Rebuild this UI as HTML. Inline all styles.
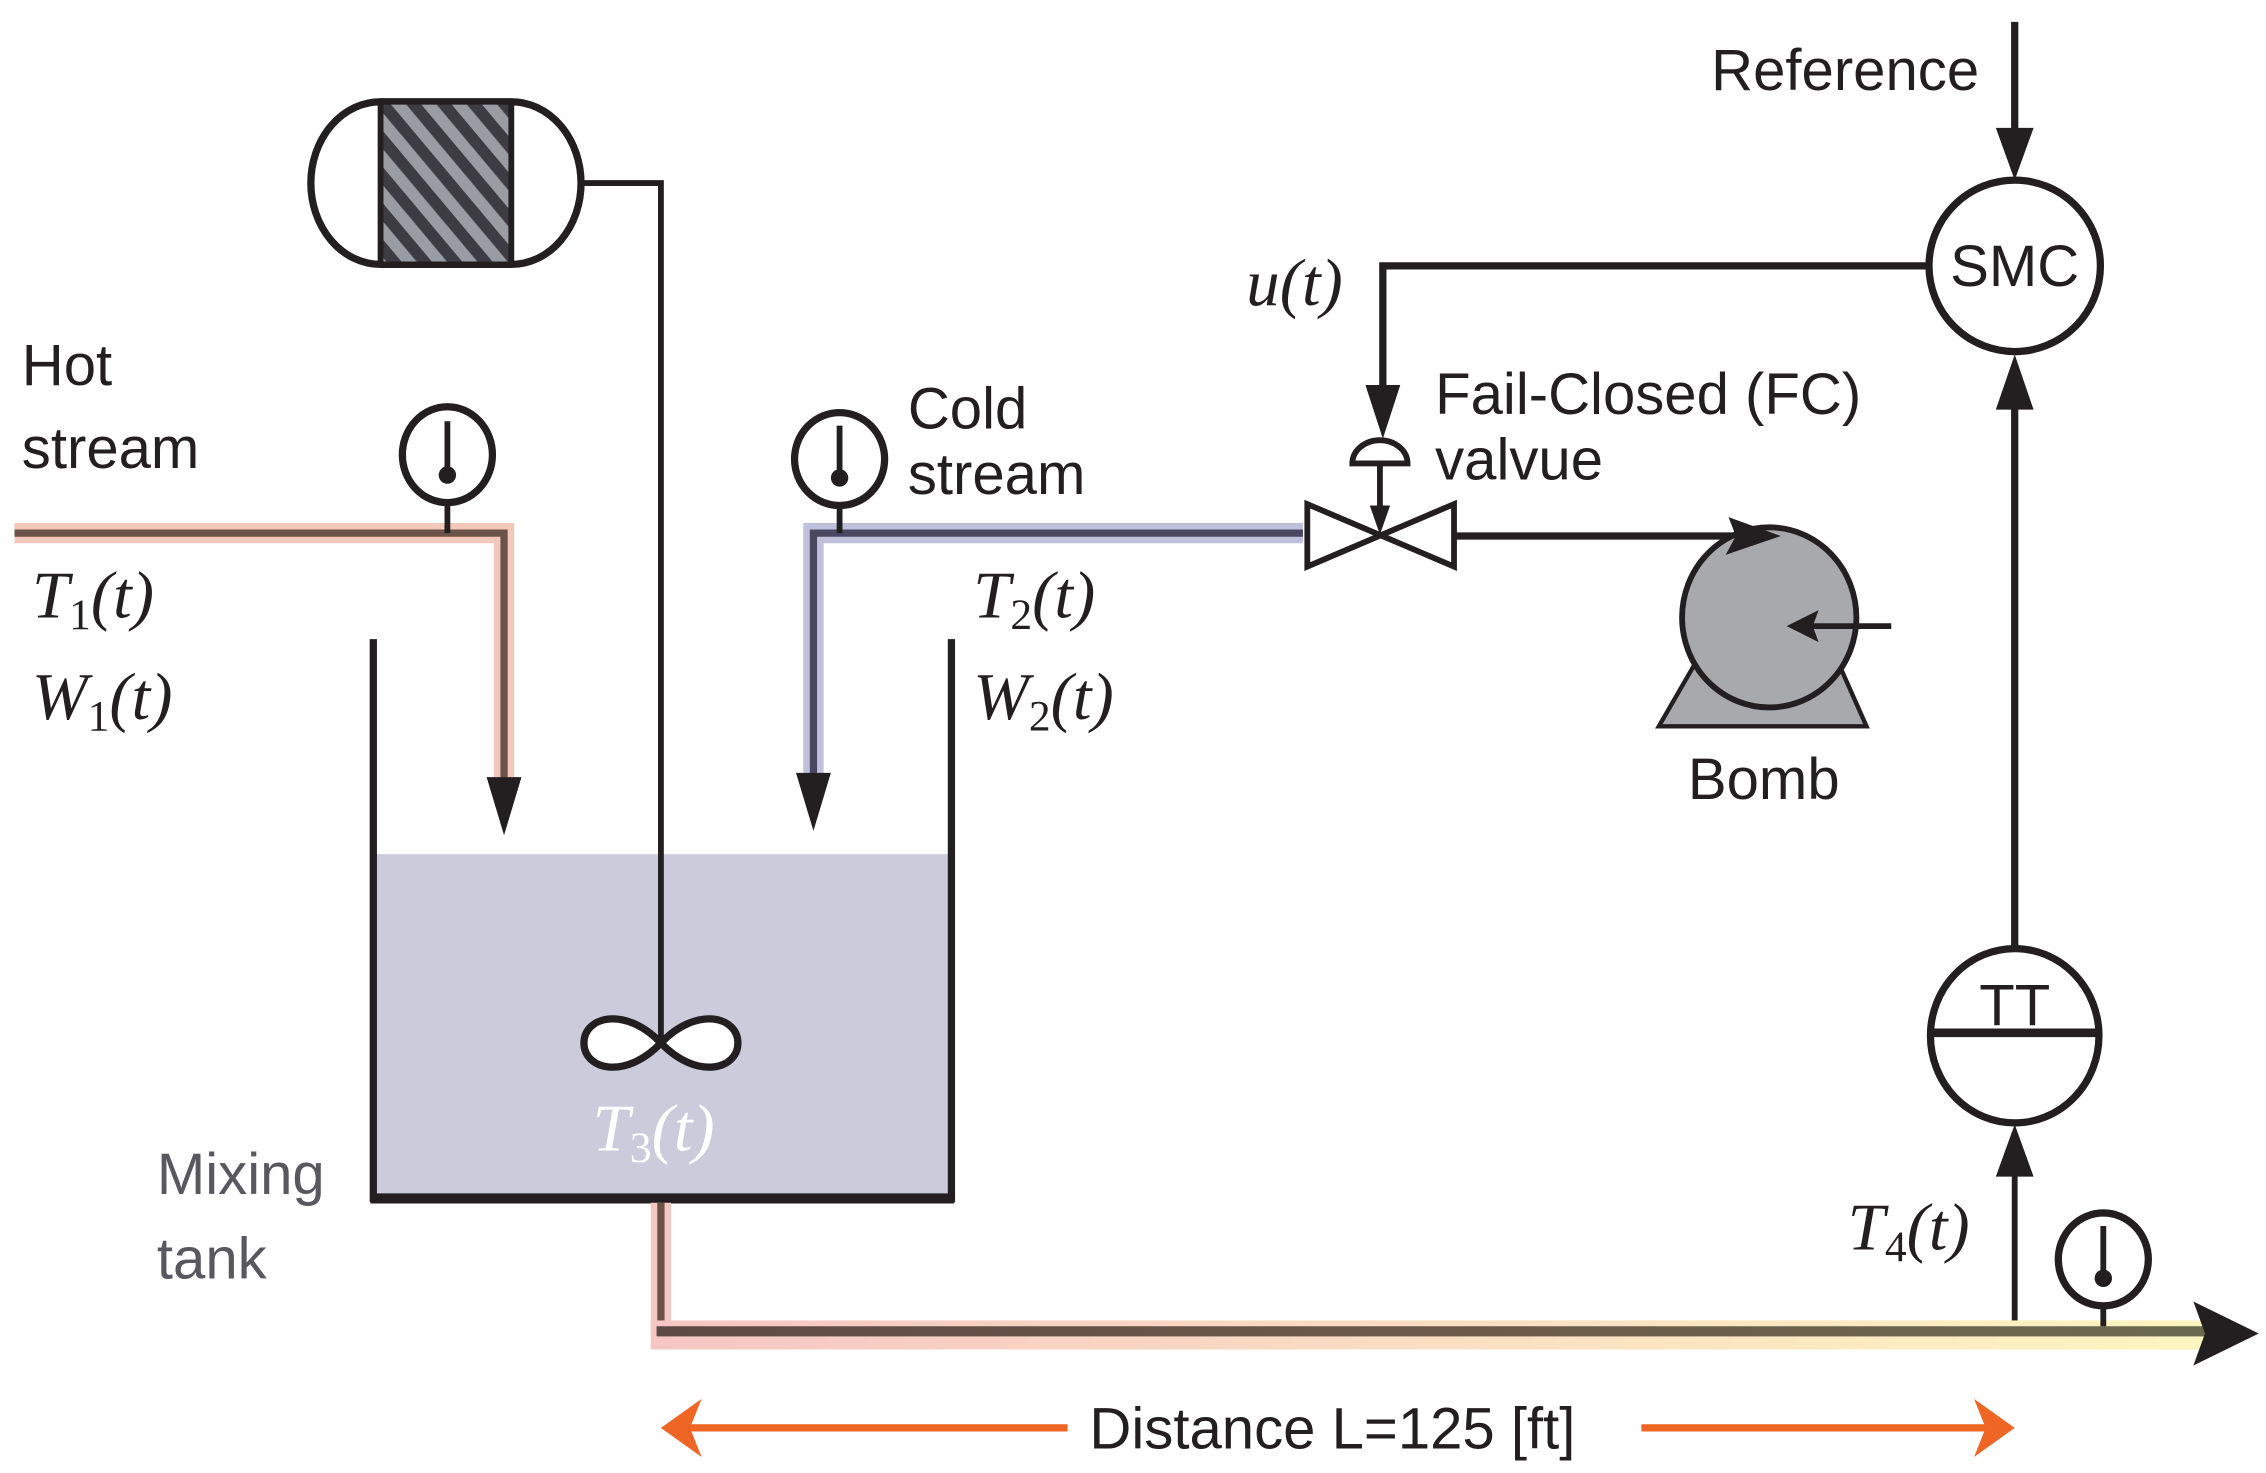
<!DOCTYPE html>
<html><head><meta charset="utf-8"><style>
html,body{margin:0;padding:0;background:#fff;}
svg{display:block;}
.s{font-family:"Liberation Sans",sans-serif;font-size:40px;fill:#231f20;}
.m{font-family:"Liberation Serif",serif;font-style:italic;font-size:46px;fill:#231f20;}
.sub{font-size:30px;font-style:normal;}
</style></head><body>
<svg width="2266" height="1473" viewBox="0 0 1560 1014" xmlns="http://www.w3.org/2000/svg">
<defs>
<pattern id="hatch" width="16" height="16" patternUnits="userSpaceOnUse" patternTransform="rotate(-40)">
<rect width="16" height="16" fill="#3c3c42"/><rect width="8" height="16" fill="#9a9ca3"/>
</pattern>
<linearGradient id="halo" x1="0" x2="1" y1="0" y2="0">
<stop offset="0" stop-color="#f6c6c4"/><stop offset="1" stop-color="#fdf5c0"/></linearGradient>
<linearGradient id="core" x1="0" x2="1" y1="0" y2="0">
<stop offset="0" stop-color="#5e4a44"/><stop offset="0.5" stop-color="#6d5a4a"/><stop offset="1" stop-color="#6b6a4e"/></linearGradient>
</defs>

<!-- heater -->
<path d="M262 70 L352 70 A48 56 0 0 1 352 182 L262 182 A48 56 0 0 1 262 70 Z" fill="#fff" stroke="#231f20" stroke-width="5"/>
<rect x="262" y="70" width="90" height="112" fill="url(#hatch)" stroke="#231f20" stroke-width="4"/>

<!-- tank liquid -->
<rect x="258" y="588" width="396" height="237" fill="#cbcbdc"/>
<polyline points="400,126 455,126 455,718" fill="none" stroke="#231f20" stroke-width="4"/>
<polyline points="257,440 257,825 655,825 655,440" fill="none" stroke="#231f20" stroke-width="5"/>
<line x1="255" y1="825" x2="657" y2="825" stroke="#231f20" stroke-width="7"/>

<!-- impeller -->
<path d="M455 718 C430 692 402 700 402 718 C402 736 430 744 455 718 C480 692 508 700 508 718 C508 736 480 744 455 718 Z" fill="#fff" stroke="#231f20" stroke-width="5"/>
<text x="408" y="792" class="m" style="fill:#fff">T<tspan class="sub" dy="8">3</tspan><tspan dy="-8">(t)</tspan></text>
<text x="108" y="822" class="s" style="fill:#58585e">Mixing</text>
<text x="108" y="880" class="s" style="fill:#58585e">tank</text>

<!-- hot stream -->
<polyline points="10,367 347,367 347,545" fill="none" stroke="#f2c8bb" stroke-width="14"/>
<polyline points="10,367 347,367 347,545" fill="none" stroke="#6b5347" stroke-width="5"/>
<polygon points="335,535 359,535 347,575" fill="#231f20"/>
<ellipse cx="308" cy="313" rx="31" ry="33" fill="#fff" stroke="#231f20" stroke-width="5"/>
<line x1="308" y1="290" x2="308" y2="325" stroke="#231f20" stroke-width="4"/>
<circle cx="308" cy="327" r="6" fill="#231f20"/>
<line x1="308" y1="346" x2="308" y2="367" stroke="#231f20" stroke-width="4"/>
<text x="15" y="265" class="s">Hot</text>
<text x="15" y="322" class="s">stream</text>
<text x="22" y="425" class="m">T<tspan class="sub" dy="8">1</tspan><tspan dy="-8">(t)</tspan></text>
<text x="22" y="495" class="m">W<tspan class="sub" dy="8">1</tspan><tspan dy="-8">(t)</tspan></text>

<!-- cold stream -->
<polyline points="897,367 560,367 560,540" fill="none" stroke="#bfc0dc" stroke-width="14"/>
<polyline points="897,367 560,367 560,540" fill="none" stroke="#4a4860" stroke-width="5"/>
<polygon points="548,532 572,532 560,572" fill="#231f20"/>
<ellipse cx="578" cy="316" rx="31" ry="32" fill="#fff" stroke="#231f20" stroke-width="5"/>
<line x1="578" y1="293" x2="578" y2="327" stroke="#231f20" stroke-width="4"/>
<circle cx="578" cy="329" r="6" fill="#231f20"/>
<line x1="578" y1="348" x2="578" y2="367" stroke="#231f20" stroke-width="4"/>
<text x="625" y="295" class="s">Cold</text>
<text x="625" y="340" class="s">stream</text>
<text x="670" y="425" class="m">T<tspan class="sub" dy="8">2</tspan><tspan dy="-8">(t)</tspan></text>
<text x="670" y="495" class="m">W<tspan class="sub" dy="8">2</tspan><tspan dy="-8">(t)</tspan></text>

<!-- valve -->
<polygon points="900,347 900,390 1001,347 1001,390" fill="#fff" stroke="#231f20" stroke-width="4" stroke-linejoin="miter"/>
<path d="M931 319 A19 16 0 0 1 969 319 Z" fill="#fff" stroke="#231f20" stroke-width="4"/>
<line x1="950" y1="319" x2="950" y2="350" stroke="#231f20" stroke-width="4"/>
<polygon points="943,348 957,348 950,368" fill="#231f20"/>
<polyline points="1327,183 952,183 952,270" fill="none" stroke="#231f20" stroke-width="5"/>
<polygon points="940,265 964,265 952,302" fill="#231f20"/>
<text x="858" y="210" class="m">u(t)</text>
<text x="988" y="285" class="s">Fail-Closed (FC)</text>
<text x="988" y="330" class="s">valvue</text>
<line x1="1002" y1="369" x2="1200" y2="369" stroke="#231f20" stroke-width="5"/>

<!-- pump -->
<polygon points="1142,500 1285,500 1265,455 1168,455" fill="#a8a9ad" stroke="#231f20" stroke-width="3"/>
<ellipse cx="1218" cy="425" rx="60" ry="62" fill="#a8a9ad" stroke="#231f20" stroke-width="4"/>
<polygon points="1226,369 1190,356 1195,369 1188,382" fill="#231f20"/>
<line x1="1302" y1="431" x2="1245" y2="431" stroke="#231f20" stroke-width="4"/>
<polygon points="1230,431 1252,420 1248,431 1252,442" fill="#231f20"/>
<text x="1162" y="550" class="s">Bomb</text>

<!-- SMC -->
<line x1="1387" y1="15" x2="1387" y2="95" stroke="#231f20" stroke-width="5"/>
<polygon points="1374,88 1400,88 1387,124" fill="#231f20"/>
<text x="1178" y="62" class="s">Reference</text>
<circle cx="1387" cy="183" r="59" fill="#fff" stroke="#231f20" stroke-width="5"/>
<text x="1387" y="197" class="s" text-anchor="middle">SMC</text>
<line x1="1387" y1="270" x2="1387" y2="655" stroke="#231f20" stroke-width="5"/>
<polygon points="1374,282 1400,282 1387,244" fill="#231f20"/>

<!-- TT -->
<ellipse cx="1387" cy="713" rx="58" ry="60" fill="#fff" stroke="#231f20" stroke-width="5"/>
<line x1="1329" y1="711" x2="1445" y2="711" stroke="#231f20" stroke-width="6"/>
<text x="1387" y="706" class="s" text-anchor="middle">TT</text>
<line x1="1387" y1="800" x2="1387" y2="915" stroke="#231f20" stroke-width="4"/>
<polygon points="1374,810 1400,810 1387,774" fill="#231f20"/>
<text x="1272" y="860" class="m">T<tspan class="sub" dy="8">4</tspan><tspan dy="-8">(t)</tspan></text>

<!-- outlet pipe -->
<line x1="455" y1="828" x2="455" y2="920" stroke="#f2c8c0" stroke-width="14"/>
<line x1="455" y1="828" x2="455" y2="918" stroke="#6b5347" stroke-width="5"/>
<rect x="448" y="909" width="1072" height="20" fill="url(#halo)"/>
<rect x="452" y="913" width="1068" height="7" fill="url(#core)"/>
<polygon points="1510,896 1555,918 1510,940 1518,918" fill="#231f20"/>
<ellipse cx="1448" cy="867" rx="31" ry="32" fill="#fff" stroke="#231f20" stroke-width="5"/>
<line x1="1448" y1="844" x2="1448" y2="878" stroke="#231f20" stroke-width="4"/>
<circle cx="1448" cy="880" r="6" fill="#231f20"/>
<line x1="1448" y1="899" x2="1448" y2="913" stroke="#231f20" stroke-width="4"/>

<!-- distance -->
<line x1="470" y1="983" x2="735" y2="983" stroke="#ee6524" stroke-width="5"/>
<polygon points="455,983 483,963 475,983 483,1003" fill="#ee6524"/>
<line x1="1130" y1="983" x2="1370" y2="983" stroke="#ee6524" stroke-width="5"/>
<polygon points="1387,983 1359,963 1367,983 1359,1003" fill="#ee6524"/>
<text x="750" y="997" class="s">Distance L=125 [ft]</text>
</svg>
</body></html>
